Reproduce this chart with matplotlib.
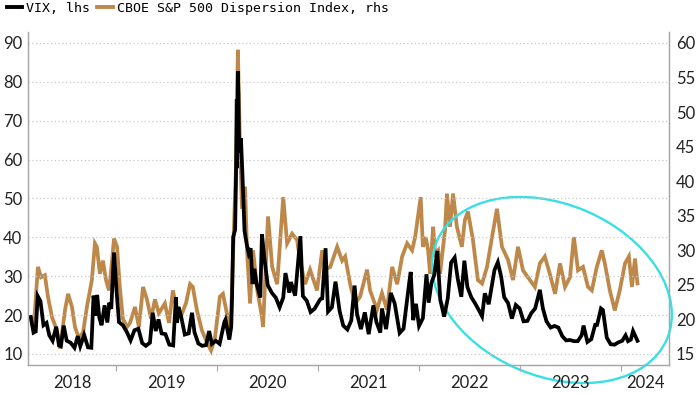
import matplotlib
matplotlib.use('Agg')
import matplotlib.pyplot as plt
import matplotlib.dates as mdates
import pandas as pd
from matplotlib.lines import Line2D
from matplotlib.patches import Ellipse

# VIX, left axis
vix_dates = [
    '2018-02-26', '2018-03-08', '2018-03-16', '2018-03-23', '2018-04-02', '2018-04-13',
    '2018-04-24', '2018-05-04', '2018-05-16', '2018-05-29', '2018-06-08', '2018-06-15',
    '2018-06-25', '2018-07-06', '2018-07-20', '2018-08-03', '2018-08-15', '2018-08-24',
    '2018-09-07', '2018-09-21', '2018-10-03', '2018-10-11', '2018-10-19', '2018-10-24',
    '2018-11-01', '2018-11-09', '2018-11-20', '2018-11-30', '2018-12-07', '2018-12-14',
    '2018-12-24', '2019-01-03', '2019-01-11', '2019-01-25', '2019-02-08', '2019-02-22',
    '2019-03-08', '2019-03-22', '2019-04-05', '2019-04-18', '2019-05-03', '2019-05-13',
    '2019-05-24', '2019-06-03', '2019-06-14', '2019-06-28', '2019-07-12', '2019-07-26',
    '2019-08-05', '2019-08-09', '2019-08-14', '2019-08-23', '2019-09-06', '2019-09-20',
    '2019-10-02', '2019-10-11', '2019-10-25', '2019-11-08', '2019-11-22', '2019-12-03',
    '2019-12-13', '2019-12-27', '2020-01-10', '2020-01-27', '2020-01-31', '2020-02-14',
    '2020-02-21', '2020-02-24', '2020-02-28', '2020-03-06', '2020-03-09', '2020-03-12',
    '2020-03-13', '2020-03-16', '2020-03-18', '2020-03-20', '2020-03-24', '2020-03-27',
    '2020-04-01', '2020-04-09', '2020-04-17', '2020-04-24', '2020-05-01', '2020-05-08',
    '2020-05-15', '2020-05-22', '2020-06-05', '2020-06-11', '2020-06-19', '2020-07-02',
    '2020-07-17', '2020-07-31', '2020-08-14', '2020-08-27', '2020-09-04', '2020-09-18',
    '2020-09-24', '2020-10-09', '2020-10-28', '2020-11-06', '2020-11-20', '2020-12-04',
    '2020-12-18', '2021-01-08', '2021-01-15', '2021-01-27', '2021-02-05', '2021-02-19',
    '2021-03-04', '2021-03-19', '2021-04-01', '2021-04-16', '2021-04-30', '2021-05-12',
    '2021-05-21', '2021-06-04', '2021-06-18', '2021-07-02', '2021-07-19', '2021-07-30',
    '2021-08-13', '2021-08-19', '2021-09-03', '2021-09-20', '2021-10-04', '2021-10-22',
    '2021-11-05', '2021-11-26', '2021-12-01', '2021-12-10', '2021-12-20', '2021-12-31',
    '2022-01-14', '2022-01-27', '2022-02-04', '2022-02-14', '2022-02-24', '2022-03-07',
    '2022-03-18', '2022-04-01', '2022-04-14', '2022-04-26', '2022-05-09', '2022-05-20',
    '2022-06-02', '2022-06-13', '2022-06-24', '2022-07-08', '2022-07-22', '2022-08-05',
    '2022-08-16', '2022-08-26', '2022-09-09', '2022-09-30', '2022-10-12', '2022-10-24',
    '2022-11-04', '2022-11-18', '2022-12-02', '2022-12-16', '2022-12-30', '2023-01-13',
    '2023-01-27', '2023-02-10', '2023-02-24', '2023-03-13', '2023-03-24', '2023-04-06',
    '2023-04-21', '2023-05-05', '2023-05-19', '2023-06-02', '2023-06-16', '2023-06-30',
    '2023-07-14', '2023-07-28', '2023-08-11', '2023-08-18', '2023-09-01', '2023-09-15',
    '2023-09-29', '2023-10-06', '2023-10-20', '2023-10-27', '2023-11-10', '2023-11-24',
    '2023-12-08', '2023-12-22', '2024-01-05', '2024-01-17', '2024-01-26', '2024-02-05',
    '2024-02-13', '2024-02-22', '2024-02-29',
]
vix_values = [
    19.5, 15.5, 15.8, 24.9, 23.6, 17.4,
    18.0, 14.8, 13.4, 17.0, 12.2, 12.0,
    17.3, 13.4, 12.9, 11.6, 14.6, 12.0,
    14.9, 11.7, 11.6, 25.0, 19.9, 25.2,
    19.3, 17.4, 22.5, 18.1, 23.2, 21.6,
    36.1, 25.5, 18.2, 17.4, 15.7, 13.5,
    16.1, 16.5, 12.8, 12.1, 12.9, 20.6,
    15.9, 18.9, 15.3, 15.1, 12.4, 12.2,
    24.6, 18.0, 22.1, 19.9, 15.0, 15.3,
    20.6, 15.6, 12.7, 12.1, 12.3, 15.9,
    12.6, 13.4, 12.6, 18.2, 18.8, 13.7,
    17.1, 25.0, 40.1, 41.9, 54.5, 75.5,
    57.8, 82.7, 76.5, 66.0, 61.7, 65.5,
    57.0, 41.7, 38.2, 35.9, 37.2, 28.0,
    31.9, 28.2, 24.5, 40.8, 35.1, 27.7,
    25.7, 24.5, 22.0, 24.5, 30.8, 25.8,
    28.5, 25.0, 40.3, 24.9, 23.7, 20.8,
    21.6, 24.1, 24.3, 37.2, 20.9, 22.0,
    28.6, 21.0, 17.3, 16.3, 18.6, 27.6,
    20.2, 16.4, 20.7, 15.1, 22.5, 18.2,
    15.5, 21.7, 16.4, 25.7, 23.0, 15.4,
    16.5, 28.6, 31.1, 18.7, 22.9, 17.2,
    19.2, 30.5, 23.2, 28.3, 30.3, 36.5,
    23.9, 19.6, 24.3, 33.5, 34.8, 29.4,
    24.7, 34.0, 27.2, 24.6, 23.0, 21.2,
    19.7, 25.6, 22.8, 31.6, 33.6, 29.9,
    24.6, 23.1, 19.1, 22.6, 21.7, 18.4,
    18.5, 20.5, 21.7, 26.5, 21.7, 18.4,
    16.8, 17.2, 16.8, 14.6, 13.5, 13.6,
    13.3, 13.3, 14.8, 17.3, 13.1, 13.8,
    17.5, 17.5, 21.7, 21.3, 14.2, 12.5,
    12.4, 13.0, 13.4, 14.8, 13.3, 13.7,
    15.9, 14.5, 13.4,
]

# CBOE S&P 500 Dispersion Index, right axis
disp_dates = [
    '2018-02-26', '2018-03-08', '2018-03-24', '2018-04-04', '2018-04-18', '2018-04-29',
    '2018-05-14', '2018-06-01', '2018-06-12', '2018-06-30', '2018-07-11', '2018-07-25',
    '2018-08-05', '2018-08-19', '2018-09-03', '2018-09-17', '2018-10-05', '2018-10-16',
    '2018-10-23', '2018-11-03', '2018-11-14', '2018-11-25', '2018-12-06', '2018-12-17',
    '2018-12-24', '2019-01-04', '2019-01-14', '2019-01-25', '2019-02-09', '2019-02-20',
    '2019-03-10', '2019-03-24', '2019-04-08', '2019-04-22', '2019-05-07', '2019-05-21',
    '2019-06-04', '2019-06-26', '2019-07-11', '2019-07-25', '2019-08-09', '2019-08-27',
    '2019-09-10', '2019-09-25', '2019-10-05', '2019-10-20', '2019-11-07', '2019-11-25',
    '2019-12-10', '2019-12-24', '2020-01-11', '2020-01-22', '2020-02-05', '2020-02-19',
    '2020-02-28', '2020-03-09', '2020-03-16', '2020-03-23', '2020-03-31', '2020-04-11',
    '2020-04-18', '2020-04-29', '2020-05-10', '2020-05-25', '2020-06-11', '2020-06-15',
    '2020-07-03', '2020-07-18', '2020-08-05', '2020-08-27', '2020-09-10', '2020-09-28',
    '2020-10-16', '2020-10-27', '2020-11-14', '2020-12-02', '2020-12-27', '2021-01-15',
    '2021-01-26', '2021-02-13', '2021-03-10', '2021-03-28', '2021-04-08', '2021-04-26',
    '2021-05-14', '2021-06-01', '2021-06-26', '2021-07-07', '2021-08-01', '2021-08-19',
    '2021-09-06', '2021-09-25', '2021-10-13', '2021-10-31', '2021-11-18', '2021-12-06',
    '2021-12-17', '2022-01-06', '2022-01-14', '2022-01-24', '2022-02-02', '2022-02-09',
    '2022-02-20', '2022-02-27', '2022-03-10', '2022-03-17', '2022-04-04', '2022-04-11',
    '2022-04-22', '2022-05-03', '2022-05-17', '2022-06-04', '2022-06-15', '2022-06-26',
    '2022-07-14', '2022-08-01', '2022-08-16', '2022-09-03', '2022-09-21', '2022-10-09',
    '2022-10-27', '2022-11-18', '2022-12-06', '2022-12-24', '2023-01-11', '2023-01-29',
    '2023-02-23', '2023-03-13', '2023-03-31', '2023-04-18', '2023-05-07', '2023-05-25',
    '2023-06-12', '2023-06-30', '2023-07-14', '2023-07-29', '2023-08-16', '2023-09-03',
    '2023-09-17', '2023-10-05', '2023-10-23', '2023-11-03', '2023-11-21', '2023-12-09',
    '2023-12-27', '2024-01-15', '2024-01-29', '2024-02-09', '2024-02-20', '2024-02-29',
]
disp_values = [
    20.3, 18.5, 27.6, 26.1, 26.4, 23.3,
    20.3, 18.4, 15.8, 21.4, 23.7, 21.8,
    18.9, 17.3, 18.1, 21.8, 25.7, 31.0,
    30.5, 26.6, 28.5, 25.7, 24.2, 28.5,
    31.7, 30.5, 24.7, 20.1, 18.9, 19.5,
    21.8, 18.9, 24.7, 22.9, 20.1, 22.9,
    20.9, 22.3, 19.5, 24.2, 21.2, 20.9,
    22.3, 25.1, 24.7, 21.3, 18.4, 16.7,
    15.5, 17.3, 23.3, 23.7, 20.9, 18.5,
    30.0, 42.0, 59.0, 46.0, 36.0, 39.2,
    30.0, 22.3, 30.0, 24.2, 20.4, 18.9,
    34.9, 27.6, 25.1, 37.7, 31.0, 32.4,
    31.5, 28.5, 25.1, 27.2, 24.2, 30.0,
    27.2, 27.6, 30.5, 28.5, 29.1, 25.1,
    22.3, 23.3, 27.2, 24.2, 21.4, 23.8,
    21.4, 27.6, 25.1, 29.1, 31.0, 30.0,
    31.9, 37.7, 30.5, 31.9, 30.0, 26.6,
    33.4, 29.5, 30.0, 26.6, 32.9, 38.2,
    33.4, 38.2, 33.4, 30.5, 34.4, 35.6,
    31.5, 25.7, 25.2, 27.6, 31.9, 36.0,
    30.5, 28.6, 25.7, 30.5, 27.1, 26.1,
    24.7, 28.1, 29.1, 26.6, 23.7, 28.1,
    24.7, 26.1, 31.9, 27.1, 27.6, 24.7,
    24.2, 27.6, 30.0, 28.1, 24.2, 21.3,
    24.2, 28.1, 29.1, 24.7, 28.8, 25.2,
]

years = [2018, 2019, 2020, 2021, 2022, 2023, 2024]
left_ticks = [10, 20, 30, 40, 50, 60, 70, 80, 90]
right_ticks = [15, 20, 25, 30, 35, 40, 45, 50, 55, 60]
x_start, x_end = '2018-02-16', '2024-06-22'

BLACK = '#000000'
GOLD = '#BD8849'
CYAN = '#38DFE5'
AXIS_GREY = '#A8A8A8'
TEXT = '#222222'

plt.rcParams['font.family'] = ['Lato', 'DejaVu Sans']

fig = plt.figure(figsize=(7, 3.94), dpi=100)
ax1 = fig.add_axes([0.04, 0.0736, 0.9157, 0.8452])
ax2 = ax1.twinx()
ax1.set_zorder(ax2.get_zorder() + 1)
ax1.patch.set_visible(False)

ax2.plot(pd.to_datetime(disp_dates), disp_values, color=GOLD, lw=2.7, solid_joinstyle='miter')
ax1.plot(pd.to_datetime(vix_dates), vix_values, color=BLACK, lw=2.7, solid_joinstyle='miter')

# left 10..90 lines up with right 15..60
lo, hi = 7.17, 92.8
ax1.set_ylim(lo, hi)
ax2.set_ylim(15 + (lo - 10) * 45 / 80, 15 + (hi - 10) * 45 / 80)
ax1.set_yticks(left_ticks)
ax2.set_yticks(right_ticks)

x0, x1 = pd.Timestamp(x_start), pd.Timestamp(x_end)
ax1.set_xlim(x0, x1)

# year boundaries as ticks, year labels centred in the visible part of each year
bounds = [pd.Timestamp(f'{y}-01-01') for y in years if pd.Timestamp(f'{y}-01-01') > x0]
ax1.set_xticks(bounds)
ax1.set_xticklabels([''] * len(bounds))
mids = []
for y in years:
    a = max(pd.Timestamp(f'{y}-01-01'), x0)
    b = min(pd.Timestamp(f'{y + 1}-01-01'), x1)
    mids.append(a + (b - a) / 2)
ax1.set_xticks(mids, minor=True)
ax1.set_xticklabels([str(y) for y in years], minor=True)
ax1.tick_params(axis='x', which='major', length=4, width=0.8, color=AXIS_GREY, direction='out')
ax1.tick_params(axis='x', which='minor', length=0, pad=7, labelsize=12, labelcolor=TEXT)

ax1.tick_params(axis='y', length=0, pad=4, labelsize=12, labelcolor=TEXT)
ax2.tick_params(axis='y', length=0, pad=5, labelsize=12, labelcolor=TEXT)

ax1.yaxis.grid(True, linestyle=(0, (1, 2)), color='#C8C8C8', lw=0.9)
ax1.set_axisbelow(True)

for ax in (ax1, ax2):
    ax.spines['top'].set_visible(False)
    for s in ('left', 'right', 'bottom'):
        ax.spines[s].set_color(AXIS_GREY)
        ax.spines[s].set_linewidth(0.9)

handles = [Line2D([], [], color=BLACK, lw=2.8), Line2D([], [], color=GOLD, lw=2.8)]
fig.legend(handles, ['VIX, lhs', 'CBOE S&P 500 Dispersion Index, rhs'],
           loc='upper left', bbox_to_anchor=(-0.002, 1.015), ncol=2, frameon=False,
           prop={'family': 'DejaVu Sans Mono', 'size': 9.5},
           handlelength=1.2, handletextpad=0.3, columnspacing=0.5, borderaxespad=0.2)

# highlight ring over 2022-2024
ring = Ellipse((5.52, 1.04), 2.5, 1.72, angle=-23, transform=fig.dpi_scale_trans,
               fill=False, edgecolor=CYAN, lw=1.7)
fig.add_artist(ring)

fig.savefig('out.png', dpi=100)
